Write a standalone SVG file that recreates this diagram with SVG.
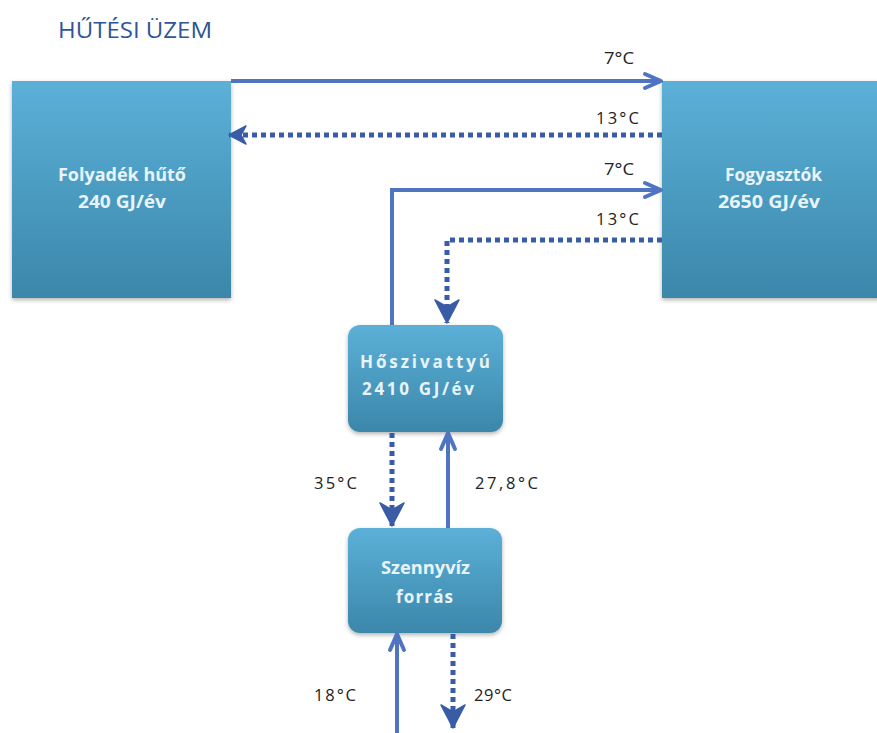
<svg xmlns="http://www.w3.org/2000/svg" width="877" height="733" viewBox="0 0 877 733">
<style>
.title{font-family:"Open Sans","Liberation Sans",sans-serif;font-size:22px;fill:#2d5597;}
.lbl{font-family:"Open Sans","Liberation Sans",sans-serif;font-size:17px;fill:#e8f4fa;font-weight:bold;}
.tmp{font-family:"Open Sans","Liberation Sans",sans-serif;font-size:16.5px;fill:#222;}
.solid{fill:none;stroke:#4f74c2;stroke-width:4;}
.dot{fill:none;stroke:#3a5ca6;stroke-width:5;stroke-dasharray:5 4;}
</style>
<defs>
<linearGradient id="g" x1="0" y1="0" x2="0" y2="1">
<stop offset="0" stop-color="#5cb0d8"/>
<stop offset="1" stop-color="#3b87aa"/>
</linearGradient>
<filter id="sh" x="-10%" y="-10%" width="120%" height="125%">
<feDropShadow dx="0" dy="2" stdDeviation="2" flood-color="#000" flood-opacity="0.3"/>
</filter>
<marker id="as" markerWidth="22" markerHeight="22" refX="19" refY="11" orient="auto" markerUnits="userSpaceOnUse" viewBox="0 0 22 22">
<path d="M3,4 L19,11 L3,18" fill="none" stroke="#4f74c2" stroke-width="4" stroke-linejoin="round" stroke-linecap="round"/>
</marker>
<marker id="ad" markerWidth="30" markerHeight="30" refX="25" refY="15" orient="auto" markerUnits="userSpaceOnUse" viewBox="0 0 30 30">
<path d="M2,3 L25,15 L2,27 L9,15 Z" fill="#3a5ca6" stroke="#3a5ca6" stroke-width="1.5" stroke-linejoin="round"/>
</marker>
<marker id="adh" markerWidth="22" markerHeight="22" refX="19" refY="11" orient="auto" markerUnits="userSpaceOnUse" viewBox="0 0 22 22">
<path d="M2,2 L19,11 L2,20 L7,11 Z" fill="#3a5ca6" stroke="#3a5ca6" stroke-width="1.5" stroke-linejoin="round"/>
</marker>
</defs>
<rect width="877" height="733" fill="#fff"/>
<text class="title" x="58" y="38" textLength="154" lengthAdjust="spacingAndGlyphs">HŰTÉSI ÜZEM</text>

<g id="folyadek-huto">
<rect x="12" y="81" width="219" height="217" fill="url(#g)" filter="url(#sh)"/>
<text class="lbl" x="58" y="181" textLength="128" lengthAdjust="spacingAndGlyphs">Folyadék hűtő</text>
<text class="lbl" x="78" y="208" textLength="88" lengthAdjust="spacingAndGlyphs">240 GJ/év</text>
</g>
<g id="fogyasztok">
<rect x="662" y="81" width="220" height="217" fill="url(#g)" filter="url(#sh)"/>
<text class="lbl" x="725" y="181" textLength="97" lengthAdjust="spacingAndGlyphs">Fogyasztók</text>
<text class="lbl" x="718" y="208" textLength="102" lengthAdjust="spacingAndGlyphs">2650 GJ/év</text>
</g>
<g id="hoszivattyu">
<rect x="348" y="325" width="155" height="107" rx="12" fill="url(#g)" filter="url(#sh)"/>
<text class="lbl" x="360" y="368" textLength="130" lengthAdjust="spacing">Hőszivattyú</text>
<text class="lbl" x="362" y="395" textLength="112" lengthAdjust="spacing">2410 GJ/év</text>
</g>
<g id="szennyviz">
<rect x="348" y="528" width="154" height="105" rx="12" fill="url(#g)" filter="url(#sh)"/>
<text class="lbl" x="381" y="574" textLength="89" lengthAdjust="spacingAndGlyphs">Szennyvíz</text>
<text class="lbl" x="396" y="603" textLength="57" lengthAdjust="spacing">forrás</text>
</g>

<g id="connectors">
<line class="solid" x1="231" y1="81" x2="661" y2="81" marker-end="url(#as)"/>
<line class="dot" x1="662" y1="135" x2="229" y2="135" marker-end="url(#adh)"/>
<polyline class="solid" points="392,325 392,190 661,190" marker-end="url(#as)"/>
<polyline class="dot" points="662,240 447,240 447,323" marker-end="url(#ad)"/>
<line class="dot" x1="392" y1="433" x2="392" y2="526" marker-end="url(#ad)"/>
<line class="solid" x1="448" y1="528" x2="448" y2="433" marker-end="url(#as)"/>
<line class="solid" x1="397" y1="733" x2="397" y2="634" marker-end="url(#as)"/>
<line class="dot" x1="453" y1="634" x2="453" y2="728" marker-end="url(#ad)"/>
</g>

<g id="labels">
<text class="tmp" x="604" y="64" textLength="30" lengthAdjust="spacingAndGlyphs">7°C</text>
<text class="tmp" x="596" y="124" textLength="43" lengthAdjust="spacing">13°C</text>
<text class="tmp" x="604" y="175" textLength="30" lengthAdjust="spacingAndGlyphs">7°C</text>
<text class="tmp" x="596" y="225" textLength="43" lengthAdjust="spacing">13°C</text>
<text class="tmp" x="314" y="489" textLength="43" lengthAdjust="spacing">35°C</text>
<text class="tmp" x="475" y="489" textLength="63" lengthAdjust="spacing">27,8°C</text>
<text class="tmp" x="314" y="701" textLength="42" lengthAdjust="spacing">18°C</text>
<text class="tmp" x="474" y="701" textLength="38" lengthAdjust="spacing">29°C</text>
</g>
</svg>
